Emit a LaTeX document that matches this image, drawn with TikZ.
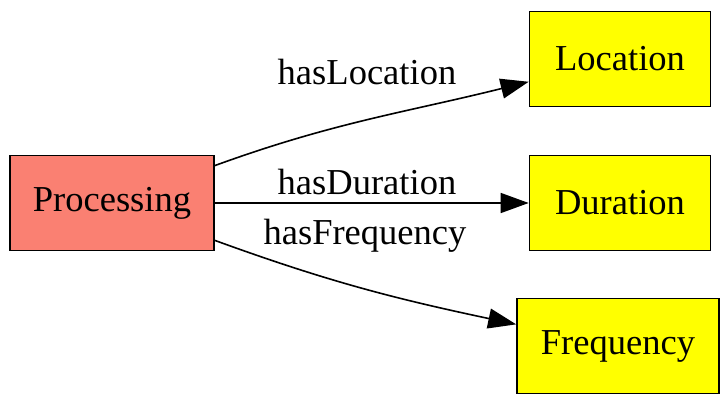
\documentclass[tikz,border=0pt]{standalone}
\usepackage{fontspec}
\setmainfont{Liberation Serif}
\definecolor{procsalmon}{RGB}{250,128,114}
\definecolor{propyellow}{RGB}{255,255,0}
\usetikzlibrary{arrows.meta,positioning}

\begin{document}
\begin{tikzpicture}[
  x=0.375pt,y=-0.375pt,
  font=\fontsize{13.7}{16}\selectfont,
  box/.style={draw,line width=0.6pt,align=center,inner sep=2pt,
    minimum height=35.6pt},
  classbox/.style={box,fill=procsalmon,minimum width=76.5pt},
  propbox/.style={box,fill=propyellow},
  arrow/.style={-{Triangle[length=10.5pt,width=7.5pt]},line width=0.6pt},
  lbl/.style={inner sep=0pt}
]
\useasboundingbox (0,0) rectangle (728,406);
% source class
\node[classbox] (proc) at (112,203) {Processing};
% property targets
\node[propbox,minimum width=67.9pt] (loc) at (620,59) {Location};
\node[propbox,minimum width=67.9pt] (dur) at (620,203) {Duration};
\node[propbox,minimum width=75.75pt] (freq) at (618,346) {Frequency};

\draw[arrow] (proc) to[out=20,in=194] (loc);
\draw[arrow] (proc) -- (dur);
\draw[arrow] (proc) to[out=-20,in=168] (freq);

\node[lbl] (lloc) at (367,72) {hasLocation};
\node[lbl] (ldur) at (367,182) {hasDuration};
\node[lbl] (lfreq) at (365,236) {hasFrequency};
\end{tikzpicture}
\end{document}
